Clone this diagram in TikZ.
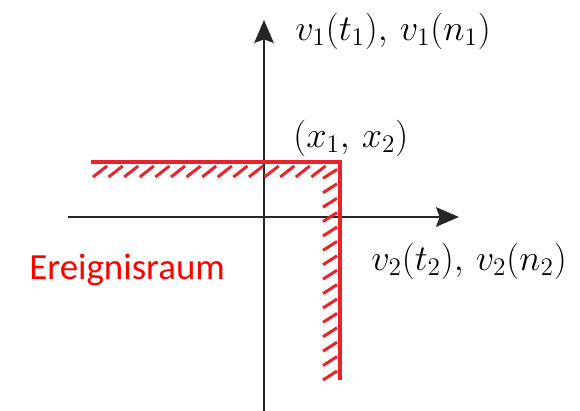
\documentclass[tikz,border=0pt]{standalone}
\usepackage{fontspec}
\newfontfamily\calibri{Carlito}
\usetikzlibrary{arrows.meta,positioning,calc}
\definecolor{axisgray}{HTML}{262626}
\definecolor{regred}{HTML}{E8232B}
\definecolor{labred}{HTML}{FF0000}

\begin{document}
\begin{tikzpicture}[x=0.02cm,y=-0.02cm,>={Stealth[length=13pt,width=11pt,inset=2pt]},
  axis/.style={axisgray,line width=1.5pt},
  bound/.style={regred,line width=2.3pt},
  hatch/.style={regred,line width=1.7pt},
  mlab/.style={inner sep=0pt,font=\fontsize{22}{26}\selectfont}]
\useasboundingbox (0,0) rectangle (580,411);

% ---- axes ----
\coordinate (xs) at (68,217);
\coordinate (xe) at (459,217);
\coordinate (ys) at (264,411);
\coordinate (ye) at (264,20);
\draw[->,axis] (xs) -- (xe);
\draw[->,axis] (ys) -- (ye);

% ---- border of the event space ----
\coordinate (bl) at (91,162);
\coordinate (corner) at (340,162);
\coordinate (bb) at (340,380);
\draw[bound] (bl) -- (corner) -- (bb);
% hatching below and left
\foreach \i in {0,...,14}
  \draw[hatch] (93+\i*15.6,177) -- ++(14,-11);
\foreach \i in {0,...,14}
  \draw[hatch] (323,380-\i*14.4) -- ++(14,-9);

% ---- labels ----
\node[mlab,anchor=west] (v1) at (295,31) {$v_1(t_1),\,v_1(n_1)$};
\node[mlab,anchor=west] (pt) at (293,138) {$(x_1,\,x_2)$};
\node[mlab,anchor=west] (v2) at (371,261) {$v_2(t_2),\,v_2(n_2)$};
\node[anchor=base west,inner sep=0pt,text=labred,font=\calibri\fontsize{21}{24}\selectfont] (ev) at (29,279) {Ereignisraum};

\end{tikzpicture}
\end{document}
